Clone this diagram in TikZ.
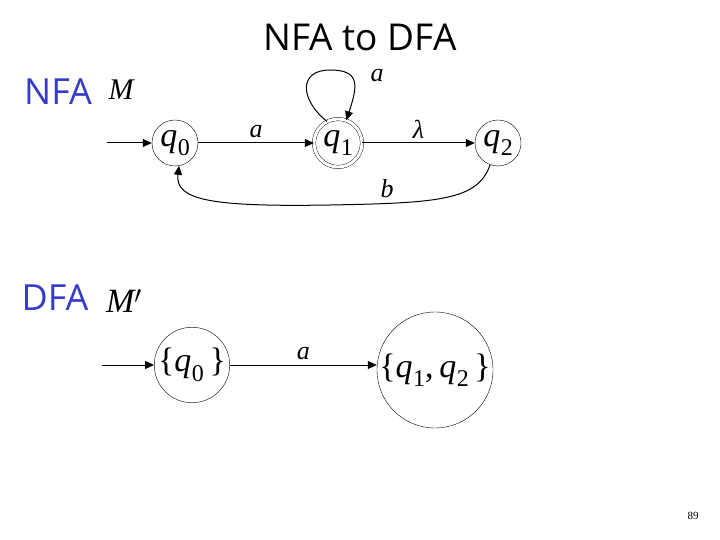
\documentclass[tikz,border=0pt]{standalone}
\usepackage{fontspec}
\setmainfont{Liberation Serif}
\newfontfamily\titlefont{Open Sans}
\usetikzlibrary{arrows.meta}
\definecolor{nfablue}{RGB}{55,60,200}
\newcommand{\qsub}[1]{{\itshape q}\kern0.5pt\raisebox{-0.28em}{\fontsize{24}{24}\selectfont #1}}
\begin{document}
\begin{tikzpicture}[x=1pt,y=-1pt,
  st/.style={draw,circle,thin,inner sep=0pt,font=\fontsize{34}{36}\selectfont},
  edge/.style={-{Triangle[length=9pt,width=8pt]},line width=1pt},
  lbl/.style={font=\fontsize{26}{28}\selectfont\itshape},
  hdr/.style={font=\titlefont\fontsize{36}{38}\selectfont,text=nfablue}]
\useasboundingbox (0,0) rectangle (720,540);
\node[font=\titlefont\fontsize{37}{40}\selectfont] (title) at (360,37) {NFA to DFA};
\node[hdr] (nfa) at (58,92) {NFA};
\node[font=\fontsize{30}{32}\selectfont\itshape] (M) at (121,90) {M};
\node[hdr] (dfa) at (55,298) {DFA};
\node[font=\fontsize{34}{36}\selectfont\itshape] (Mp) at (124,301) {M$'$};
% NFA
\node[st,minimum size=46pt] (q0) at (175,143) {\qsub{0}};
\node[st,minimum size=48pt,double,double distance=3pt] (q1) at (338,143) {\qsub{1}};
\node[st,minimum size=46pt] (q2) at (498,143) {\qsub{2}};
\coordinate (s0) at (107,143);
\draw[edge] (s0) -- (q0);
\draw[edge] (q0) -- node[lbl,above=1pt] {a} (q1);
\draw[edge] (q1) -- node[lbl,above=1pt] {λ} (q2);
\draw[edge] (q1.117) .. controls (300,100) and (298,70) .. (330,70)
  .. controls (360,70) and (358,85) .. (q1.70);
\node[lbl] (la) at (377,76) {a};
\draw[edge] (q2.250) .. controls (478,200) and (440,203) .. (330,205)
  .. controls (210,207) and (175,200) .. (q0.280);
\node[lbl] (lb) at (387,189) {b};
% DFA
\node[st,minimum size=74pt] (d0) at (192,365) {\{\qsub{0}\,\}};
\node[st,minimum size=104pt] (d1) at (435,370) {\{\qsub{1},\,\qsub{2}\,\}};
\coordinate (s1) at (102,365);
\draw[edge] (s1) -- (d0);
\draw[edge] (d0) -- node[lbl,above=1pt] {a} (d0 -| d1.west);
\node[font=\fontsize{11}{12}\selectfont] (pg) at (693,516) {89};
\end{tikzpicture}
\end{document}
